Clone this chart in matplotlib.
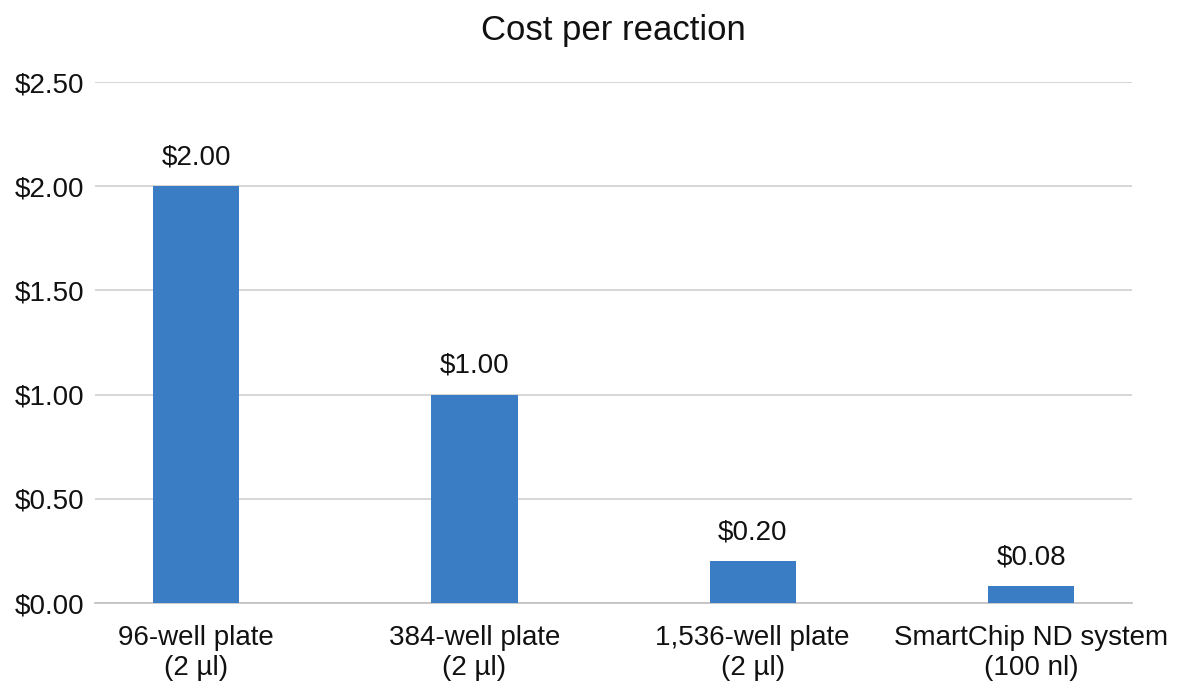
import matplotlib
matplotlib.use("Agg")
import matplotlib.pyplot as plt
from matplotlib.ticker import FuncFormatter

categories = ["96-well plate\n(2 µl)", "384-well plate\n(2 µl)",
              "1,536-well plate\n(2 µl)", "SmartChip ND system\n(100 nl)"]
costs = [2.00, 1.00, 0.20, 0.08]
yticks = [0.0, 0.5, 1.0, 1.5, 2.0, 2.5]

plt.rcParams['font.family'] = ['Liberation Sans', 'DejaVu Sans']

fig = plt.figure(figsize=(11.83, 6.88), dpi=100)
ax = fig.add_axes([0.0803, 0.1235, 0.8767, 0.7573])

x = list(range(len(categories)))
bars = ax.bar(x, costs, width=0.31, color="#3a7dc4", zorder=3)
for xi, v in zip(x, costs):
    ax.text(xi, v + 0.105, f"${v:.2f}", ha="center", va="baseline", fontsize=20, color="#111111")

ax.set_xlim(-0.363, 3.363)
ax.set_ylim(0, 2.5)
ax.set_yticks(yticks)
ax.yaxis.set_major_formatter(FuncFormatter(lambda v, p: f"${v:.2f}"))
ax.set_xticks(x)
ax.set_xticklabels(categories, fontsize=20, linespacing=1.2, color="#111111")
ax.tick_params(axis='y', labelsize=20, length=0, pad=8, labelcolor="#111111")
ax.tick_params(axis='x', length=0, pad=16)
ax.grid(axis='y', color="#d0d0d0", linewidth=1.2, zorder=0)
for s in ["top", "right", "left"]:
    ax.spines[s].set_visible(False)
ax.spines["bottom"].set_color("#c0c0c0")
ax.spines["bottom"].set_linewidth(1.2)
ax.set_title("Cost per reaction", fontsize=25, pad=30, color="#111111")

fig.savefig("out.png", dpi=100)
